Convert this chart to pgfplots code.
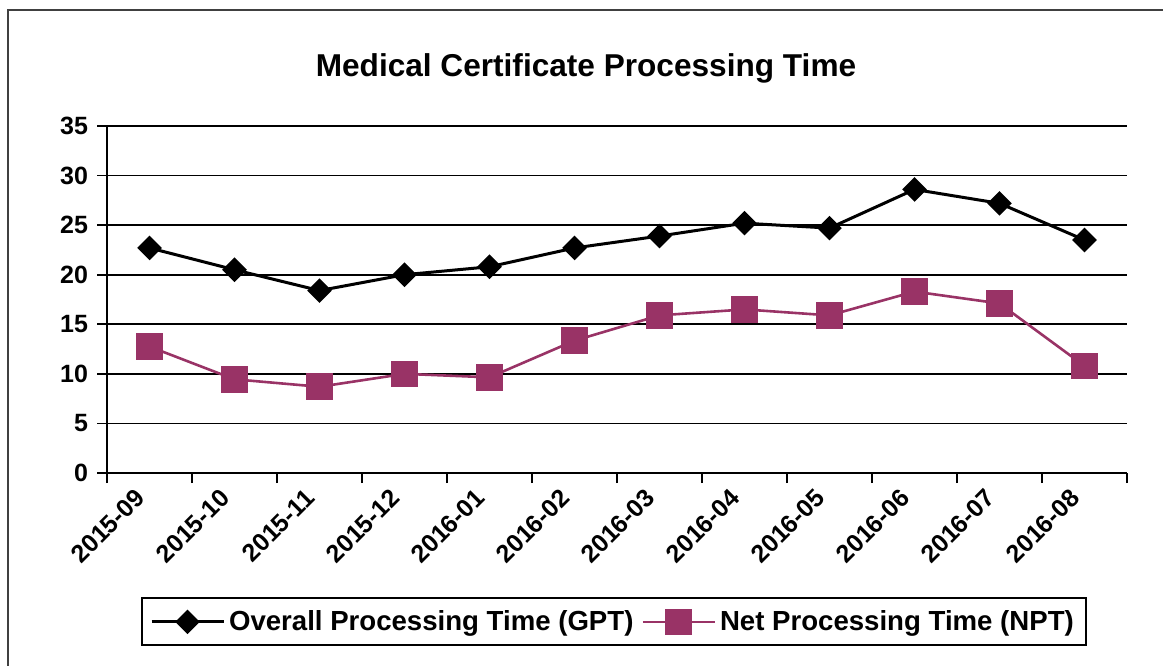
\documentclass[border=0pt]{standalone}
\usepackage{pgfplots}
\pgfplotsset{compat=1.18}
\usepackage{fontspec}
\setmainfont{Liberation Sans}
\definecolor{plum}{HTML}{993366}
\definecolor{framegray}{HTML}{404040}
\begin{document}
\begin{tikzpicture}
\useasboundingbox (0pt,0pt) rectangle (581.5pt,332.5pt);
\draw[framegray, line width=1pt] (4pt,-20pt) -- (4pt,327.5pt) -- (620pt,327.5pt);
\node[font=\fontsize{15.8}{18}\selectfont\bfseries] at (293pt,298.5pt) {Medical Certificate Processing Time};
\begin{axis}[
  at={(53.5pt,96pt)}, anchor=south west,
  scale only axis, width=510pt, height=173.5pt,
  xmin=-0.5, xmax=11.5, ymin=0, ymax=35,
  axis x line*=bottom, axis y line*=left,
  axis line style={black, line width=1pt},
  xtick={-0.5,0.5,...,11.5},
  x tick label as interval,
  xticklabels={2015-09,2015-10,2015-11,2015-12,2016-01,2016-02,2016-03,2016-04,2016-05,2016-06,2016-07,2016-08},
  ytick={0,5,...,35},
  tick align=outside,
  major tick length=5pt,
  tick style={black, line width=0.8pt},
  ymajorgrids, grid style={black, line width=0.9pt},
  /pgf/number format/assume math mode=true,
  yticklabel style={font=\fontsize{12.5}{14}\selectfont\bfseries, xshift=-1pt},
  xticklabel style={font=\fontsize{12.5}{14}\selectfont\bfseries, rotate=45, anchor=east, yshift=-0.5pt, xshift=-3.5pt},
  legend style={at={(0.497,-0.429)}, anchor=center, legend columns=2, draw=black, line width=1pt,
     font=\fontsize{13.8}{16}\selectfont\bfseries, inner sep=4pt,
     /tikz/every even column/.append style={column sep=2pt},
     /tikz/every odd column/.append style={column sep=0pt}},
  legend image code/.code={%
    \draw[#1, mark repeat=2, mark phase=2] plot coordinates {(0pt,0pt) (18pt,0pt) (36pt,0pt)};},
  clip=false,
]
\addplot[black, line width=1.5pt, mark=square*, mark size=3.6pt, mark options={rotate=45, solid, fill=black}]
  coordinates {(0,22.7) (1,20.5) (2,18.4) (3,20.0) (4,20.8) (5,22.7) (6,23.9) (7,25.2) (8,24.7) (9,28.6) (10,27.2) (11,23.5)};
\addlegendentry{Overall Processing Time (GPT)}
\addplot[plum, line width=1.3pt, mark=square*, mark size=6pt, mark options={solid, fill=plum}]
  coordinates {(0,12.75) (1,9.45) (2,8.7) (3,10.0) (4,9.65) (5,13.35) (6,15.9) (7,16.5) (8,15.9) (9,18.3) (10,17.1) (11,10.8)};
\addlegendentry{Net Processing Time (NPT)}
\end{axis}
\end{tikzpicture}
\end{document}
